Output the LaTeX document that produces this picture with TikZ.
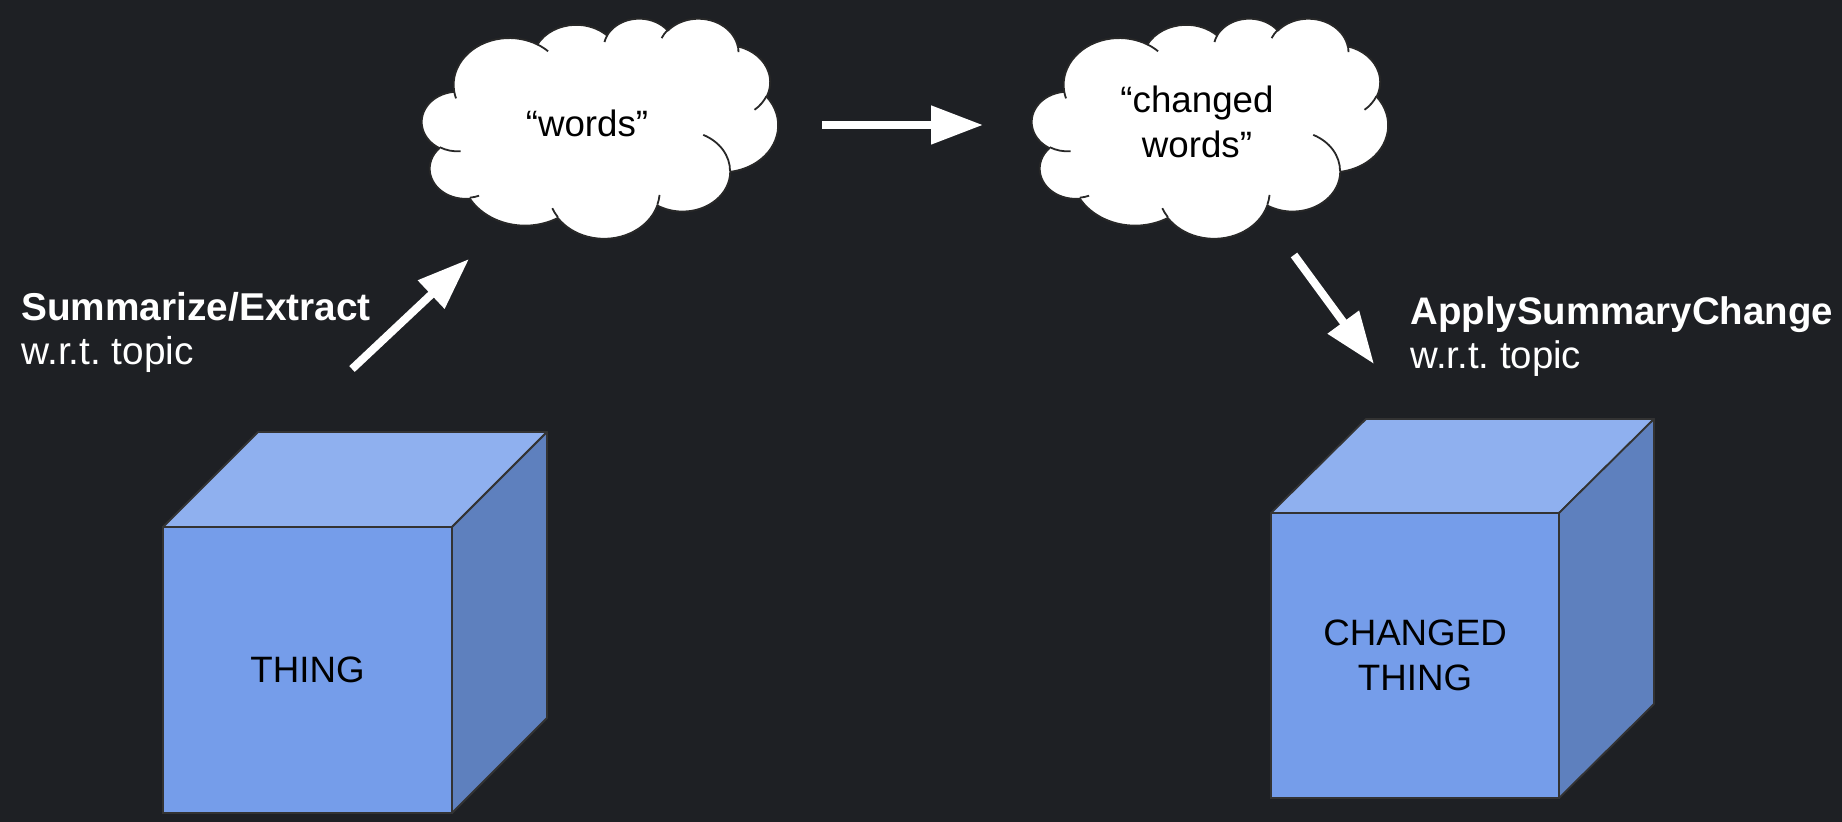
\documentclass[tikz,border=0pt]{standalone}
\usepackage{fontspec}
\setmainfont{Liberation Sans}
\usetikzlibrary{arrows.meta}
\frenchspacing

\definecolor{bg}{RGB}{30,32,36}
\definecolor{edge}{RGB}{51,51,51}
\definecolor{frontblue}{RGB}{117,157,234}
\definecolor{topblue}{RGB}{143,176,239}
\definecolor{sideblue}{RGB}{94,128,190}
\definecolor{cloudedge}{RGB}{40,40,40}

% cloud outline: units are hundredths of a 432 x 432 box
\def\cw{0.412037pt}
\def\ch{0.254630pt}
\newcommand\cpt[2]{({#1*\cw},{-(#2)*\ch})}
% elliptic arc given by radii, start angle and sweep (y pointing down)
\newcommand\carc[4]{arc[x radius={#1*\cw}, y radius={#2*\ch},
  start angle={atan2(#1*sin(-(#3)),#2*cos(-(#3)))},
  delta angle={-mod(atan2(#1*sin(-(#3)),#2*cos(-(#3)))-atan2(#1*sin(-(#3)-(#4)),#2*cos(-(#3)-(#4)))+720,360)}]}

\newcommand\cloudoutline{\cpt{39.00}{143.70}
  \carc{67.53}{91.90}{-190.4875}{123.7805}
  \carc{53.33}{72.67}{-144.1024}{89.9452}
  \carc{43.65}{59.45}{-145.8079}{99.7230}
  \carc{48.57}{65.95}{-130.9861}{117.2417}
  \carc{53.33}{72.73}{-78.7089}{109.0269}
  \carc{67.75}{92.20}{-46.2673}{130.2690}
  \carc{57.85}{78.67}{0.6250}{114.0333}
  \carc{67.52}{92.15}{22.4516}{115.1726}
  \carc{77.20}{105.43}{66.2426}{75.7110}
  \carc{43.60}{59.18}{-274.9421}{146.7356}
  \carc{43.45}{59.45}{-246.8285}{152.5189}
  -- cycle}

\newcommand\cloudcreases{%
  \cpt{46.93}{261.77} \carc{43.45}{59.45}{86.7420}{26.4295}
  \cpt{69.28}{348.99} \carc{43.60}{59.18}{73.6105}{11.4475}
  \cpt{164.78}{390.90} \carc{67.52}{92.15}{137.6242}{14.0811}
  \cpt{288.27}{347.51} \carc{67.52}{92.15}{6.4533}{15.9984}
  \cpt{341.29}{229.54} \carc{57.85}{78.67}{-70.2924}{70.9174}
  \cpt{417.98}{153.54} \carc{53.33}{72.73}{30.3180}{27.7515}
  \cpt{383.24}{54.26} \carc{48.57}{65.95}{-13.7443}{14.8589}
  \cpt{290.78}{39.52} \carc{48.57}{65.95}{-149.1815}{18.1954}
  \cpt{221.41}{47.20} \carc{43.65}{59.45}{-163.4943}{17.6864}
  \cpt{140.00}{51.92} \carc{67.53}{91.90}{-66.7070}{12.3194}
  \cpt{41.27}{157.89} \carc{67.53}{91.90}{157.6544}{11.8582}}

\newcommand\drawcloud[1]{%
  \begin{scope}[shift={(#1.north west)}]
    \filldraw[cloudline, fill=white] \cloudoutline;
    \draw[cloudline] \cloudcreases;
  \end{scope}}

\tikzset{
  cloudbox/.style={minimum width=178pt, minimum height=110pt, inner sep=0pt, outer sep=0pt},
  cloudline/.style={draw=cloudedge, line width=0.9pt, line join=round},
  cloudtext/.style={inner sep=0pt, align=center, text=black,
    font=\fontsize{18.35pt}{22.5pt}\selectfont},
  cubefront/.style={draw=edge, fill=frontblue, line width=0.9pt, inner sep=0pt,
    outer sep=0pt, align=center, text=black,
    font=\fontsize{18.35pt}{22.5pt}\selectfont},
  topface/.style={draw=edge, fill=topblue, line width=0.9pt, line join=round},
  sideface/.style={draw=edge, fill=sideblue, line width=0.9pt, line join=round},
  flow/.style={draw=white, line width=4pt, -{Triangle[length=26pt, width=18.5pt]}},
  lab/.style={inner sep=0pt, align=left, text=white},
}

\begin{document}
\begin{tikzpicture}[x=0.5pt, y=-0.5pt]
  \useasboundingbox (0,0) rectangle (1842,822);
  \fill[bg] (0,0) rectangle (1842,822);

  % left cube
  \node[cubefront, minimum width=144.5pt, minimum height=143pt] (thing) at (307.5,670) {THING};
  \filldraw[topface] (thing.north west) -- ++(95,-95) -- ([shift={(95,-95)}]thing.north east) -- (thing.north east) -- cycle;
  \filldraw[sideface] (thing.north east) -- ++(95,-95) -- ([shift={(95,-95)}]thing.south east) -- (thing.south east) -- cycle;

  % right cube
  \node[cubefront, minimum width=144pt, minimum height=142.5pt] (changed) at (1415,655.5) {CHANGED\\THING};
  \filldraw[topface] (changed.north west) -- ++(95,-94) -- ([shift={(95,-94)}]changed.north east) -- (changed.north east) -- cycle;
  \filldraw[sideface] (changed.north east) -- ++(95,-94) -- ([shift={(95,-94)}]changed.south east) -- (changed.south east) -- cycle;

  % clouds
  \node[cloudbox] (c1) at (600,128) {};
  \node[cloudbox] (c2) at (1210,128) {};
  \drawcloud{c1}
  \drawcloud{c2}
  \node[cloudtext, anchor=base] (words) at (587,137) {“words”};
  \node[cloudtext, anchor=base] (cwords) at (1197,158) {“changed\\words”};

  % labels (base anchor sits on the last line)
  \node[lab, anchor=base west, font=\fontsize{19.4pt}{22pt}\selectfont] (sumlab) at (21,365)
    {\textbf{Summarize/Extract}\\w.r.t. topic};
  \node[lab, anchor=base west, font=\fontsize{19.2pt}{22pt}\selectfont] (applab) at (1410,368.3)
    {\textbf{ApplySummaryChange}\\w.r.t. topic};

  % arrows
  \coordinate (a1s) at (352,369);
  \coordinate (a1e) at (469,259);
  \coordinate (a2s) at (822,125);
  \coordinate (a2e) at (983,125);
  \coordinate (a3s) at (1294,255);
  \coordinate (a3e) at (1374,364);
  \draw[flow] (a1s) -- (a1e);
  \draw[flow] (a2s) -- (a2e);
  \draw[flow] (a3s) -- (a3e);
\end{tikzpicture}
\end{document}
